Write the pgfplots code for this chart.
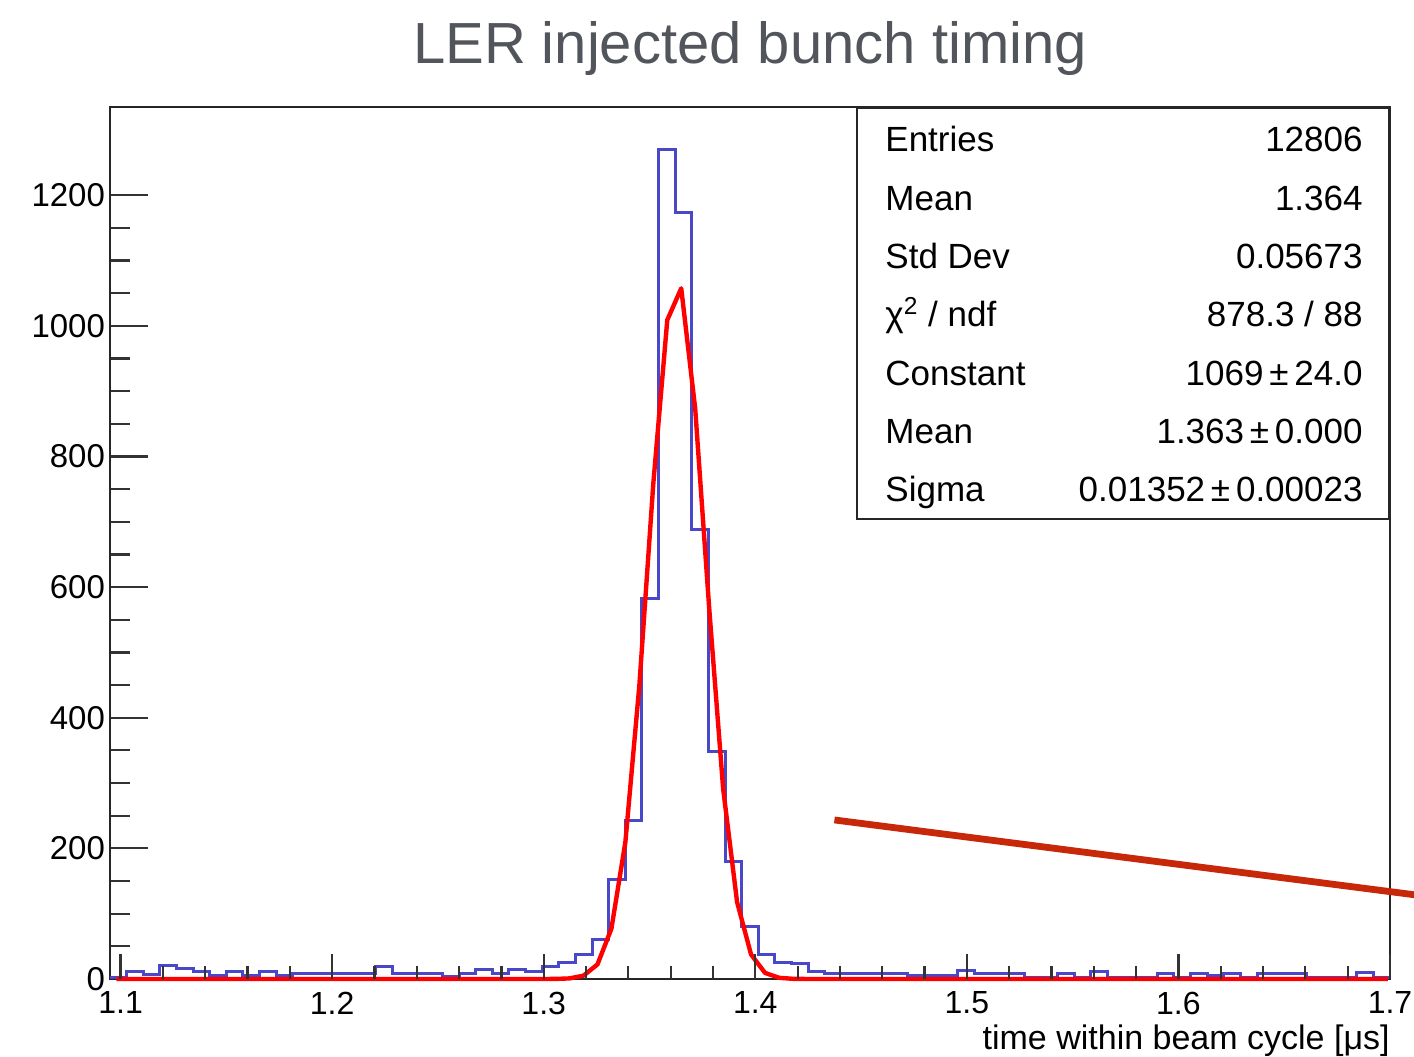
\documentclass[border=0pt]{standalone}
\usepackage{pgfplots}
\pgfplotsset{compat=1.18}
\usepackage{pgfplotstable}
\usepackage{fontspec}
\setmainfont{Liberation Sans}
\definecolor{histblue}{RGB}{72,72,200}
\definecolor{fitred}{RGB}{255,0,0}
\definecolor{annored}{RGB}{200,40,10}
\definecolor{titlegray}{RGB}{82,86,92}

\pgfplotstableread{
x count
1.09500 2
1.10286 11
1.11071 7
1.11857 20
1.12643 16
1.13429 11
1.14214 5
1.15000 11
1.15786 5
1.16571 11
1.17357 5
1.18143 8
1.18929 8
1.19714 8
1.20500 8
1.21286 8
1.22071 19
1.22857 8
1.23643 8
1.24429 8
1.25214 4
1.26000 8
1.26786 15
1.27571 8
1.28357 15
1.29143 12
1.29929 19
1.30714 25
1.31500 37
1.32286 61
1.33071 152
1.33857 242
1.34643 583
1.35429 1270
1.36214 1173
1.37000 688
1.37786 348
1.38571 180
1.39357 81
1.40143 37
1.40929 25
1.41714 23
1.42500 11
1.43286 8
1.44071 8
1.44857 8
1.45643 8
1.46429 8
1.47214 6
1.48000 6
1.48786 6
1.49571 13
1.50357 8
1.51143 8
1.51929 8
1.52714 3
1.53500 3
1.54286 8
1.55071 3
1.55857 11
1.56643 3
1.57429 3
1.58214 3
1.59000 8
1.59786 3
1.60571 8
1.61357 6
1.62143 8
1.62929 3
1.63714 8
1.64500 8
1.65286 8
1.66071 3
1.66857 3
1.67643 3
1.68429 10
1.69214 3
1.70000 3
}\histdata

\pgfplotstableread{
x y
1.0980 0
1.2990 0.02
1.3056 0.13
1.3122 0.92
1.3188 5.11
1.3254 22.3
1.3320 77.1
1.3386 209.7
1.3452 449.3
1.3518 758.5
1.3584 1008.9
1.3650 1057.4
1.3716 873.1
1.3782 568.2
1.3848 291.4
1.3914 117.7
1.3980 37.5
1.4046 9.40
1.4112 1.86
1.4178 0.29
1.4244 0.04
1.6990 0
}\fitdata

\begin{document}
\begin{tikzpicture}
\useasboundingbox (0,0) rectangle (707pt,528pt);
% main axis: frame, y ticks, data
\begin{axis}[
  at={(55pt,38.5pt)}, anchor=south west,
  scale only axis, width=640pt, height=436pt,
  xmin=1.095, xmax=1.7, ymin=0, ymax=1335,
  clip=false,
  axis line style={line width=1pt, black!85},
  xtick=\empty,
  ytick={0,200,400,600,800,1000,1200},
  minor y tick num=3,
  ytick pos=left, tick align=inside,
  major tick length=19pt, minor tick length=10pt,
  tick style={line width=1.1pt, black!80},
  /pgf/number format/assume math mode=true,
  yticklabel style={font=\fontsize{16.5}{17}\selectfont, xshift=1pt, /pgf/number format/.cd, 1000 sep={}},
  title={LER injected bunch timing},
  title style={font=\fontsize{29}{30}\selectfont, text=titlegray, at={(0.5,1)}, anchor=base, yshift=15.5pt, inner sep=0pt},
  xlabel={time within beam cycle [μs]},
  xlabel style={font=\fontsize{17}{18}\selectfont, at={(1,0)}, anchor=base east, yshift=-35pt, inner sep=0pt},
]
\addplot[const plot mark left, histblue, line width=1.5pt] table[x=x, y=count] {\histdata};
\addplot[fitred, line width=2.2pt, line join=round] table[x=x, y=y] {\fitdata};
\addplot[annored, line width=3.4pt] coordinates {(1.4374,243.5) (1.7124,128.6)};
\node[anchor=north east, draw=black!85, line width=1pt, fill=white, minimum width=266pt, minimum height=205.5pt, inner sep=0pt] at (rel axis cs:1,1) {};
\begin{scope}[every node/.style={font=\fontsize{17.5}{18}\selectfont, inner sep=0pt}]
\node[anchor=base west] at (rel axis cs:0.6055,0.9484) {Entries};
\node[anchor=base east] at (rel axis cs:0.9789,0.9484) {12806};
\node[anchor=base west] at (rel axis cs:0.6055,0.8815) {Mean};
\node[anchor=base east] at (rel axis cs:0.9789,0.8815) {1.364};
\node[anchor=base west] at (rel axis cs:0.6055,0.8147) {Std Dev};
\node[anchor=base east] at (rel axis cs:0.9789,0.8147) {0.05673};
\node[anchor=base west] at (rel axis cs:0.6055,0.7478) {χ\textsuperscript{2} / ndf};
\node[anchor=base east] at (rel axis cs:0.9789,0.7478) {878.3 / 88};
\node[anchor=base west] at (rel axis cs:0.6055,0.6810) {Constant};
\node[anchor=base east] at (rel axis cs:0.9789,0.6810) {1069\,±\,24.0};
\node[anchor=base west] at (rel axis cs:0.6055,0.6141) {Mean};
\node[anchor=base east] at (rel axis cs:0.9789,0.6141) {1.363\,±\,0.000};
\node[anchor=base west] at (rel axis cs:0.6055,0.5472) {Sigma};
\node[anchor=base east] at (rel axis cs:0.9789,0.5472) {0.01352\,±\,0.00023};
\end{scope}
\end{axis}
% overlay axis: x ticks only
\begin{axis}[
  at={(55pt,38.5pt)}, anchor=south west,
  scale only axis, width=640pt, height=436pt,
  xmin=1.095, xmax=1.7, ymin=0, ymax=1335,
  axis line style={draw=none},
  ytick=\empty,
  xtick={1.1,1.2,1.3,1.4,1.5,1.6,1.7},
  minor x tick num=4,
  xtick pos=left, tick align=inside,
  major tick length=12.5pt, minor tick length=6.5pt,
  tick style={line width=1.1pt, black!80},
  /pgf/number format/assume math mode=true,
  xticklabel style={font=\fontsize{16}{17}\selectfont, yshift=-2.8pt, /pgf/number format/.cd, fixed, precision=1},
]
\end{axis}
\end{tikzpicture}
\end{document}
